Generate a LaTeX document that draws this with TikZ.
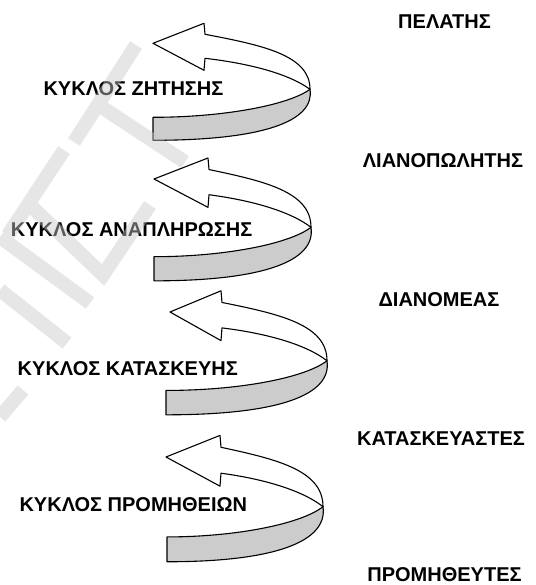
\documentclass[tikz,border=0pt]{standalone}
\usepackage{fontspec}
\setmainfont{Liberation Sans}
\begin{document}
\begin{tikzpicture}[x=1pt,y=-1pt]
\tikzset{
  ribbonline/.style={draw=black, line width=1.1pt, line join=round},
  frontface/.style={ribbonline, fill=white},
  backface/.style={ribbonline, fill=black!20},
  lbl/.style={font=\bfseries\fontsize{20}{24}\selectfont, inner sep=0pt, text=black},
  wmark/.style={draw=black!21, line width=14pt, opacity=0.45, line cap=butt, line join=miter}
}
% #1,#2: position of the arrow tip; #3: length of the head;
% #4: vertical scale; #5: x of the tail end (relative to the tip)
\newcommand{\ribbonarrow}[5]{%
  \begin{scope}[shift={(#1,#2)}, yscale=#4]
    % underside of the ribbon
    \path[backface] (157,46) .. controls (135,62) and (70,74) .. (#5,74)
      -- (#5,97) .. controls (110,97) and (162,78) .. (157,46) -- cycle;
    % front face with the arrow head
    \path[frontface] (0,0) -- (#3,-20) -- (#3+1,-9)
      .. controls (110,2) and (157,12) .. (157,46)
      .. controls (135,30) and (95,20) .. (#3+1,15)
      -- (#3,27) -- cycle;
  \end{scope}}

\useasboundingbox (0,0) rectangle (535,585);
\fill[white] (0,0) rectangle (535,585);

% the four cycles
\ribbonarrow{153}{43.3}{51}{1}{0}
\ribbonarrow{154}{179}{54}{1.05}{0}
\ribbonarrow{170}{312}{51}{1.06}{-4}
\ribbonarrow{166}{457}{54}{1.08}{1}

% cycle names
\node[lbl] (zitisi)    at (133.5,88.3) {ΚΥΚΛΟΣ ΖΗΤΗΣΗΣ};
\node[lbl] (anaplir)   at (131.7,230)  {ΚΥΚΛΟΣ ΑΝΑΠΛΗΡΩΣΗΣ};
\node[lbl] (kataskevi) at (127.8,369)  {ΚΥΚΛΟΣ ΚΑΤΑΣΚΕΥΗΣ};
\node[lbl] (promith)   at (133.3,505)  {ΚΥΚΛΟΣ ΠΡΟΜΗΘΕΙΩΝ};

% supply chain members
\node[lbl] (pelatis)   at (444.5,21.6) {ΠΕΛΑΤΗΣ};
\node[lbl] (lianop)    at (443,161)    {ΛΙΑΝΟΠΩΛΗΤΗΣ};
\node[lbl] (dianomeas) at (439,299.5)  {ΔΙΑΝΟΜΕΑΣ};
\node[lbl] (kataskev)  at (441,438.5)  {ΚΑΤΑΣΚΕΥΑΣΤΕΣ};
\node[lbl] (promithef) at (444.5,574.5){ΠΡΟΜΗΘΕΥΤΕΣ};

% faint watermark strokes laid over the page
\draw[wmark] (136,45) -- (74,142)
             (64,150) -- (8,235)
             (103,108) -- (185,162)
             (30,205) -- (103,275) -- (150,205)
             (0,237) -- (90,303)
             (0,290) -- (67,343)
             (0,417) -- (23,390);
\end{tikzpicture}
\end{document}
